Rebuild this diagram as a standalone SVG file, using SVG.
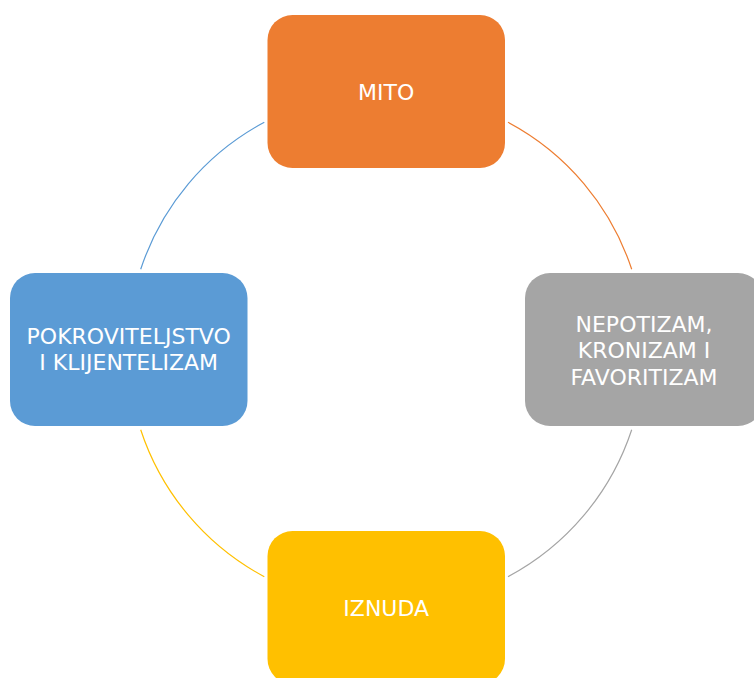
<svg xmlns="http://www.w3.org/2000/svg" width="754" height="678" viewBox="0 0 754 678">
<style>
.arc{fill:none;stroke-width:1.2}
.box{stroke:none}
.lbl{font-family:"DejaVu Sans",Verdana,sans-serif;font-size:22px;fill:#ffffff;text-anchor:middle}
</style>
<rect width="754" height="678" fill="#ffffff"/>
<g id="connectors">
<path class="arc" stroke="#ED7D31" d="M508,122.3 A258,258 0 0 1 631.7,269.3"/>
<path class="arc" stroke="#A5A5A5" d="M631.7,429.7 A258,258 0 0 1 508,576.7"/>
<path class="arc" stroke="#FFC000" d="M264.3,576.7 A258,258 0 0 1 140.7,429.7"/>
<path class="arc" stroke="#5B9BD5" d="M140.7,269.3 A258,258 0 0 1 264.3,122.3"/>
</g>
<g id="mito">
<rect class="box" x="267.5" y="15" width="237.5" height="153" rx="25" fill="#ED7D31"/>
<text class="lbl" x="386.2" y="99.5">MITO</text>
</g>
<g id="nepotizam">
<rect class="box" x="525" y="273" width="238" height="153" rx="25" fill="#A5A5A5"/>
<text class="lbl" x="644" y="331.7">NEPOTIZAM,</text>
<text class="lbl" x="644" y="358.3">KRONIZAM I</text>
<text class="lbl" x="644" y="384.9">FAVORITIZAM</text>
</g>
<g id="iznuda">
<rect class="box" x="267.5" y="531" width="237.5" height="153" rx="25" fill="#FFC000"/>
<text class="lbl" x="386.2" y="615.5">IZNUDA</text>
</g>
<g id="pokroviteljstvo">
<rect class="box" x="10" y="273" width="237.5" height="153" rx="25" fill="#5B9BD5"/>
<text class="lbl" x="128.7" y="344.3">POKROVITELJSTVO</text>
<text class="lbl" x="128.7" y="370.3">I KLIJENTELIZAM</text>
</g>
</svg>
